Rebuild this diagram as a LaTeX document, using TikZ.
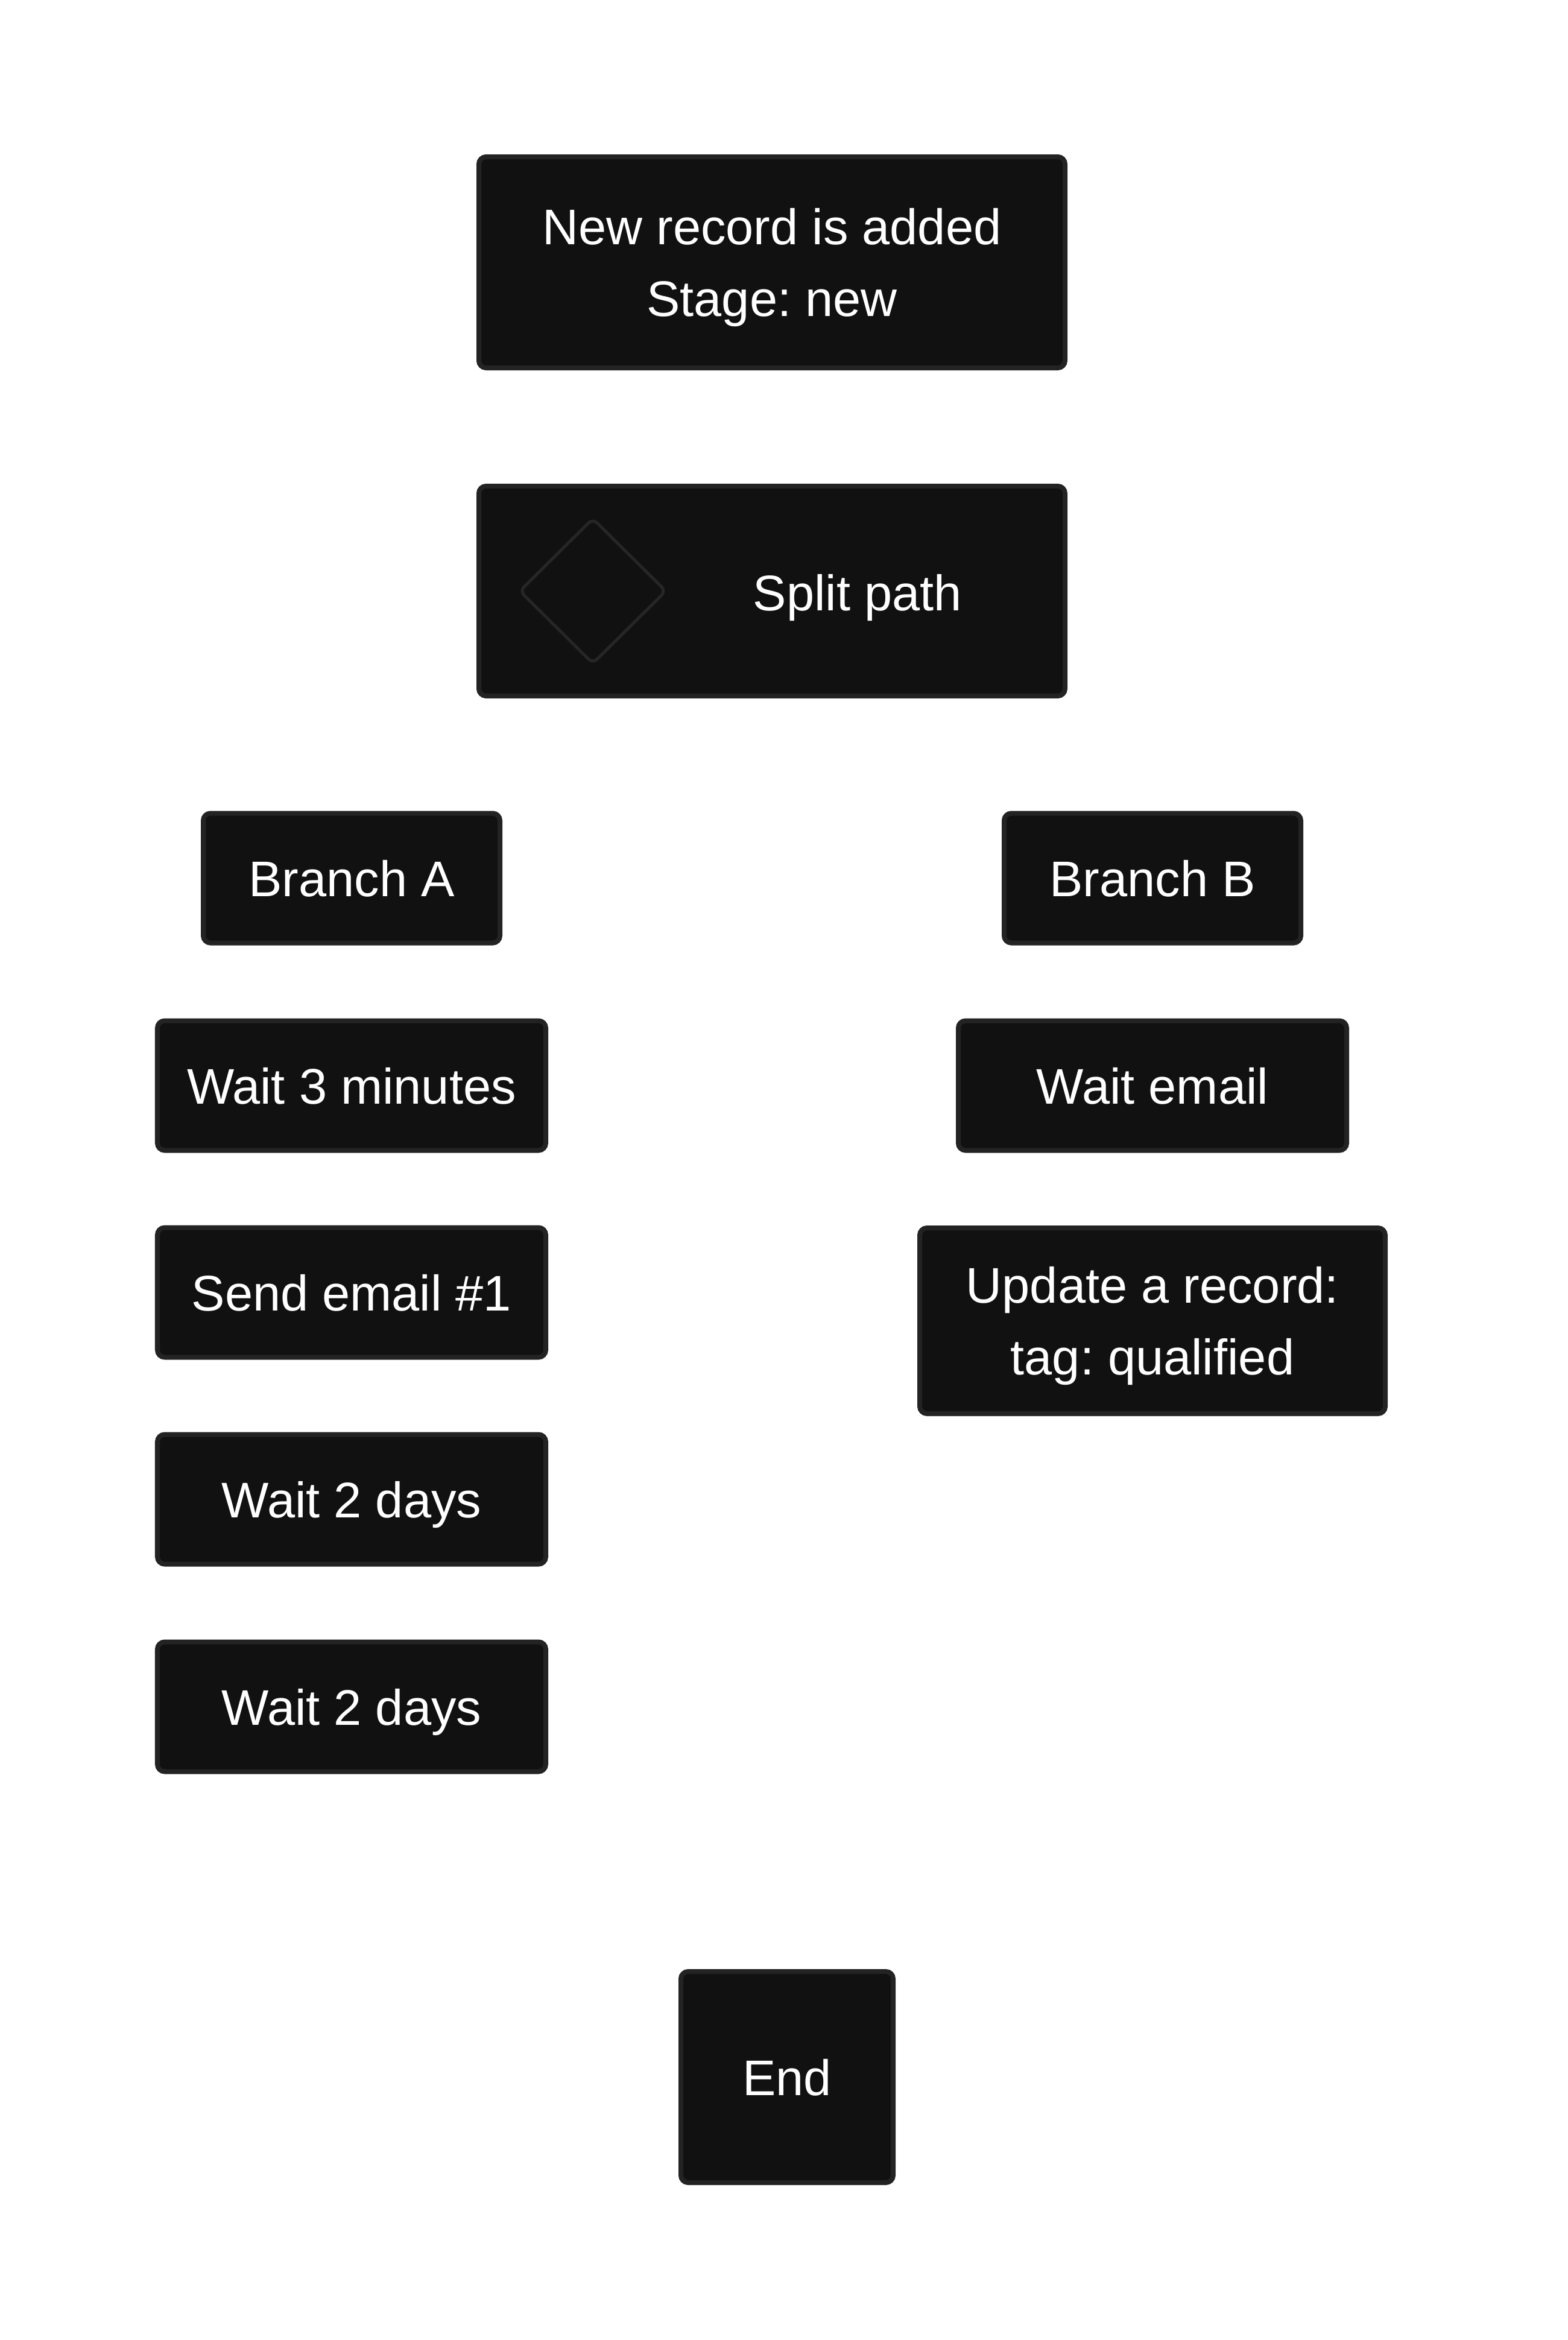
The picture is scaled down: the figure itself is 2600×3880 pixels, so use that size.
\documentclass[tikz,border=0pt]{standalone}
\usepackage{fontspec}
\setmainfont{Liberation Sans}
\usetikzlibrary{calc}
\frenchspacing
\definecolor{boxfill}{HTML}{111111}
\definecolor{boxline}{HTML}{232323}
\definecolor{iconline}{HTML}{262626}
\begin{document}
\begin{tikzpicture}[x=0.01cm,y=-0.01cm,
  card/.style={draw=boxline, fill=boxfill, line width=0.08cm, rounded corners=0.12cm,
    text=white, align=center, inner sep=0pt, outer sep=0pt, text depth=0pt,
    font=\fontsize{23.6}{33.9}\selectfont},
  label/.style={text=white, inner sep=0pt, text depth=0pt, font=\fontsize{23.6}{33.9}\selectfont},
  icon/.style={draw=iconline, line width=0.05cm, rounded corners=0.1cm}]
\fill[white] (0,0) rectangle (2600,3880);
\useasboundingbox (0,0) rectangle (2600,3880);

\node[card, minimum width=972*0.01cm, minimum height=350*0.01cm] (new) at (1280,435) {New record is added\\Stage: new};
\node[card, minimum width=972*0.01cm, minimum height=348*0.01cm] (split) at (1280,980) {};
\coordinate (dia) at (983,980);
\draw[icon] ($(dia)+(0,-120)$) -- ($(dia)+(121,0)$) -- ($(dia)+(0,120)$) -- ($(dia)+(-121,0)$) -- cycle;
\node[label] (splittext) at (1422,982) {Split path};

\node[card, minimum width=492*0.01cm, minimum height=215*0.01cm] (ba) at (583,1456) {Branch A};
\node[card, minimum width=492*0.01cm, minimum height=215*0.01cm] (bb) at (1911,1456) {Branch B};

\node[card, minimum width=644*0.01cm, minimum height=215*0.01cm] (w3) at (583,1800) {Wait 3 minutes};
\node[card, minimum width=644*0.01cm, minimum height=215*0.01cm] (we) at (1911,1800) {Wait email};

\node[card, minimum width=644*0.01cm, minimum height=215*0.01cm] (se) at (583,2143) {Send email \#1};
\node[card, minimum width=772*0.01cm, minimum height=308*0.01cm] (upd) at (1911,2190) {Update a record:\\tag: qualified};

\node[card, minimum width=644*0.01cm, minimum height=215*0.01cm] (w2a) at (583,2486) {Wait 2 days};
\node[card, minimum width=644*0.01cm, minimum height=215*0.01cm] (w2b) at (583,2830) {Wait 2 days};

\node[card, minimum width=352*0.01cm, minimum height=350*0.01cm] (end) at (1305,3444) {End};
\end{tikzpicture}
\end{document}
